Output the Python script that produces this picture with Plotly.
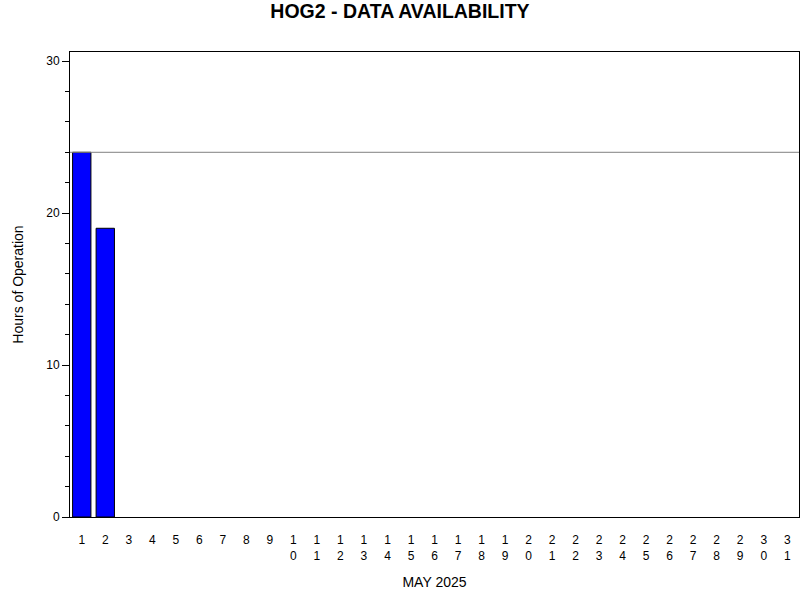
import plotly.graph_objects as go

# данные
days = list(range(1, 32))
hours = [24, 19] + [0] * 29
day_labels = [str(d) if d < 10 else "<br>".join(str(d)) for d in days]
full_day = 24

FONT = "Liberation Sans"

fig = go.Figure()
fig.add_trace(go.Bar(
    x=days, y=hours, width=0.78,
    marker=dict(color="#0000ff",
                line=dict(color="black", width=[1 if h > 0 else 0 for h in hours])),
    showlegend=False,
))
fig.add_hline(y=full_day, line=dict(color="#808080", width=1))

fig.update_layout(
    width=800, height=600,
    margin=dict(l=70, r=1, t=52, b=83),
    paper_bgcolor="white", plot_bgcolor="white",
    font=dict(family=FONT, size=12, color="black"),
    title=dict(text="<b>HOG2 - DATA AVAILABILITY</b>", x=0.5, xanchor="center",
               y=0.982, yanchor="middle", font=dict(size=19.5, family=FONT)),
)
fig.update_xaxes(
    range=[0.5, 31.5], tickmode="array", tickvals=days, ticktext=day_labels,
    ticks="", showline=True, linecolor="black", linewidth=1, mirror=True,
    showgrid=False, zeroline=False, ticklabelstandoff=12, automargin=False,
    title=dict(text="MAY 2025", standoff=15),
)
fig.update_yaxes(
    range=[0, 30.6], tickvals=[0, 10, 20, 30], ticks="outside", ticklen=7,
    minor=dict(dtick=2, ticks="outside", ticklen=4, tickcolor="black"),
    tickcolor="black", showline=True, linecolor="black", linewidth=1, mirror=True,
    showgrid=False, zeroline=False, automargin=False,
    title=dict(text="Hours of Operation", standoff=19),
)

# убираем отступ body, чтобы график начинался с (0, 0)
fig.write_html("out.html", config={"displayModeBar": False},
               post_script="document.body.style.margin='0';")
